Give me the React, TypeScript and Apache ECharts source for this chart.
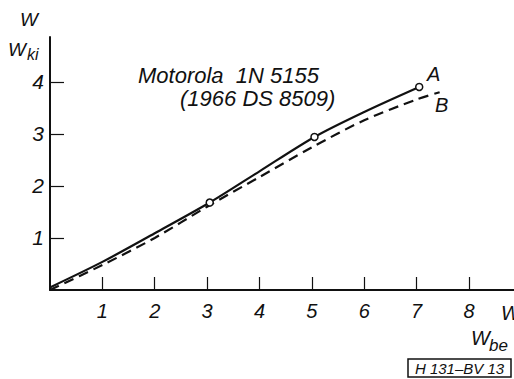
import React, { useEffect, useRef } from "react";
import * as echarts from "echarts";

const xTicks = [1, 2, 3, 4, 5, 6, 7, 8];
const yTicks = [1, 2, 3, 4];
const curveA: [number, number][] = [
  [0, 0.05], [1, 0.54], [2, 1.09], [3.05, 1.68], [4, 2.28], [5.05, 2.94], [6, 3.42], [7.05, 3.9],
];
const markedA = [3.05, 5.05, 7.05];
const curveB: [number, number][] = [
  [0, 0.0], [1, 0.48], [2, 1.0], [3, 1.6], [4, 2.17], [5, 2.74], [6, 3.26], [7, 3.66], [7.44, 3.8],
];

const FONT = "Liberation Sans";
const INK = "#111";

export default function App() {
  const ref = useRef<HTMLDivElement>(null);
  useEffect(() => {
    if (!ref.current) return;
    const chart = echarts.init(ref.current, undefined, { renderer: "svg" });
    const txt = (x: number, y: number, text: string, size: number, align = "left") => ({
      type: "text",
      x,
      y,
      style: {
        text,
        fontSize: size,
        fontStyle: "italic",
        fontFamily: FONT,
        fill: INK,
        textAlign: align,
        textVerticalAlign: "middle",
      },
    });
    chart.setOption({
      animation: false,
      backgroundColor: "#fff",
      grid: { left: 50, right: 0, top: 37, bottom: 89 },
      xAxis: {
        type: "value",
        min: 0,
        max: 8.86,
        interval: 1,
        splitLine: { show: false },
        axisLine: { lineStyle: { color: INK, width: 2 } },
        axisTick: {
          inside: true,
          length: 13,
          customValues: xTicks,
          lineStyle: { color: INK, width: 1.2 },
        },
        axisLabel: {
          customValues: xTicks,
          margin: 11,
          fontSize: 20,
          fontStyle: "italic",
          fontFamily: FONT,
          color: INK,
        },
      },
      yAxis: {
        type: "value",
        min: 0,
        max: 4.86,
        interval: 1,
        splitLine: { show: false },
        axisLine: { show: true, lineStyle: { color: INK, width: 2 } },
        axisTick: {
          show: true,
          inside: true,
          length: 14,
          customValues: yTicks,
          lineStyle: { color: INK, width: 1.2 },
        },
        axisLabel: {
          customValues: yTicks,
          margin: 6,
          fontSize: 21,
          fontStyle: "italic",
          fontFamily: FONT,
          color: INK,
        },
      },
      series: [
        {
          type: "line",
          name: "A",
          smooth: 0.3,
          data: curveA.map((p) => ({
            value: p,
            symbol: markedA.includes(p[0]) ? "circle" : "none",
          })),
          showSymbol: true,
          symbolSize: 7,
          itemStyle: { color: "#fff", borderColor: INK, borderWidth: 1.5 },
          lineStyle: { color: INK, width: 2.2 },
          z: 3,
        },
        {
          type: "line",
          name: "B",
          smooth: 0.3,
          data: curveB,
          showSymbol: false,
          symbol: "none",
          lineStyle: { color: INK, width: 2.2, type: [10, 6] },
          z: 2,
        },
      ],
      graphic: [
        txt(20, 19, "W", 19),
        txt(8, 49, "W", 19),
        txt(27, 54, "ki", 16),
        txt(138, 75, "Motorola  1N 5155", 22),
        txt(180, 98, "(1966 DS 8509)", 22),
        txt(427, 74, "A", 20),
        txt(435, 105, "B", 20),
        txt(501, 313, "W", 20),
        txt(471, 338, "W", 20),
        txt(489, 345, "be", 17),
        {
          type: "rect",
          shape: { x: 408, y: 359, width: 103, height: 18 },
          style: { fill: "none", stroke: INK, lineWidth: 1.5 },
        },
        {
          type: "text",
          x: 459.5,
          y: 368.5,
          style: {
            text: "H 131–BV 13",
            fontSize: 15,
            fontStyle: "italic",
            fontFamily: FONT,
            fill: INK,
            textAlign: "center",
            textVerticalAlign: "middle",
          },
        },
      ],
    });
    return () => chart.dispose();
  }, []);
  return (
    <div
      ref={ref}
      style={{ position: "fixed", left: 0, top: 0, width: 514, height: 379 }}
    />
  );
}
